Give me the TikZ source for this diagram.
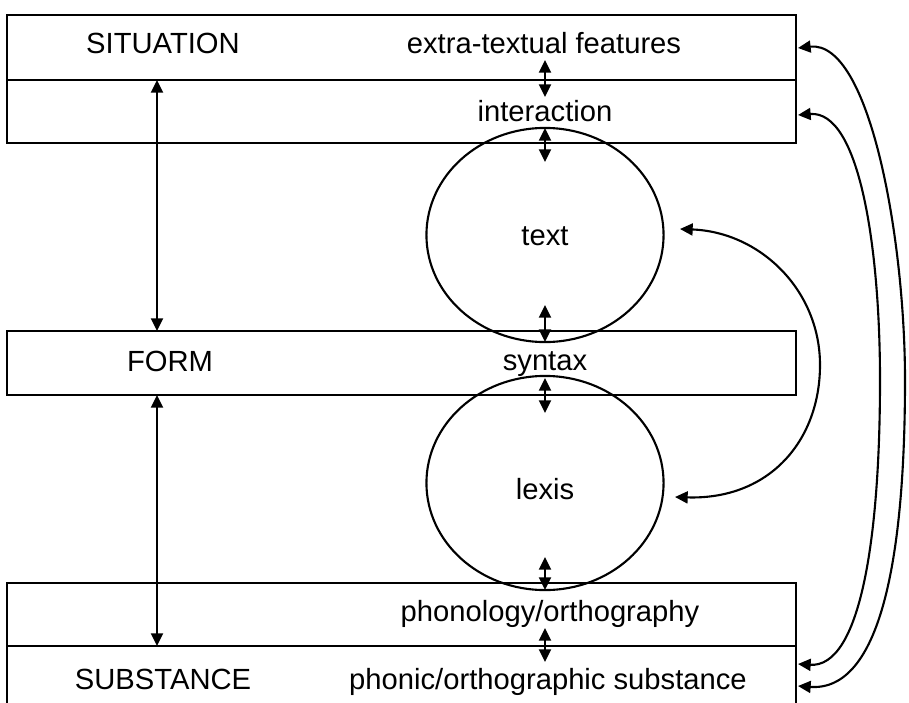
\documentclass[tikz,border=0pt]{standalone}
\usepackage{fontspec}
\setmainfont{Liberation Sans}
\usetikzlibrary{arrows.meta,shapes.geometric}
\begin{document}
\begin{tikzpicture}[x=0.01cm,y=-0.01cm,
  line width=0.6pt,
  every node/.style={font=\fontsize{8.3pt}{10pt}\selectfont, inner sep=0pt},
  lbl/.style={anchor=base},
  dbl/.style={{Triangle[length=3.6pt,width=3.4pt]}-{Triangle[length=3.6pt,width=3.4pt]}},
  oval/.style={ellipse, draw, minimum width=2.37cm, minimum height=2.14cm}]
\useasboundingbox (0,0) rectangle (909,703);
\clip (0,0) rectangle (909,703);
% boxes
\draw (7,15) rectangle (796,143);
\draw (7,80) -- (796,80);
\draw (7,331) rectangle (796,395);
\draw (7,583) rectangle (796,730);
\draw (7,646) -- (796,646);
% ovals
\node[oval] (textov) at (545,235) {};
\node[oval] (lexov) at (545,483) {};
% labels
\node[lbl] (sit) at (163,54) {SITUATION};
\node[lbl] (etf) at (544,54) {extra-textual features};
\node[lbl] (inter) at (545,121) {interaction};
\node[lbl] (txt) at (545,245) {text};
\node[lbl] (form) at (170,371) {FORM};
\node[lbl] (syn) at (545,370) {syntax};
\node[lbl] (lex) at (545,499) {lexis};
\node[lbl] (pho) at (550,621) {phonology/orthography};
\node[lbl] (sub) at (163,689) {SUBSTANCE};
\node[lbl] (pos) at (548,689) {phonic/orthographic substance};
% coordinates for connectors
\coordinate (L1a) at (157,80);  \coordinate (L1b) at (157,331);
\coordinate (L2a) at (157,395); \coordinate (L2b) at (157,646);
\coordinate (m1a) at (545,60);  \coordinate (m1b) at (545,97);
\coordinate (m2a) at (545,128); \coordinate (m2b) at (545,162);
\coordinate (m3a) at (545,305); \coordinate (m3b) at (545,342);
\coordinate (m4a) at (545,378); \coordinate (m4b) at (545,413);
\coordinate (m5a) at (545,557); \coordinate (m5b) at (545,590);
\coordinate (m6a) at (545,628); \coordinate (m6b) at (545,662);
\coordinate (r1a) at (798,48);  \coordinate (r1b) at (798,686);
\coordinate (r2a) at (798,115); \coordinate (r2b) at (798,664);
\coordinate (r3a) at (680,229); \coordinate (r3b) at (675,497);
% vertical arrows
\draw[dbl] (L1a) -- (L1b);
\draw[dbl] (L2a) -- (L2b);
\draw[dbl] (m1a) -- (m1b);
\draw[dbl] (m2a) -- (m2b);
\draw[dbl] (m3a) -- (m3b);
\draw[dbl] (m4a) -- (m4b);
\draw[dbl] (m5a) -- (m5b);
\draw[dbl] (m6a) -- (m6b);
% curved arrows
\draw[dbl] (r1a) .. controls (870,40) and (905,240) .. (905,380)
  .. controls (905,560) and (880,692) .. (r1b);
\draw[dbl] (r2a) .. controls (860,110) and (880,250) .. (880,380)
  .. controls (880,540) and (860,668) .. (r2b);
\draw[dbl] (r3a) .. controls (760,232) and (820,290) .. (820,365)
  .. controls (820,440) and (770,500) .. (r3b);
\end{tikzpicture}
\end{document}
